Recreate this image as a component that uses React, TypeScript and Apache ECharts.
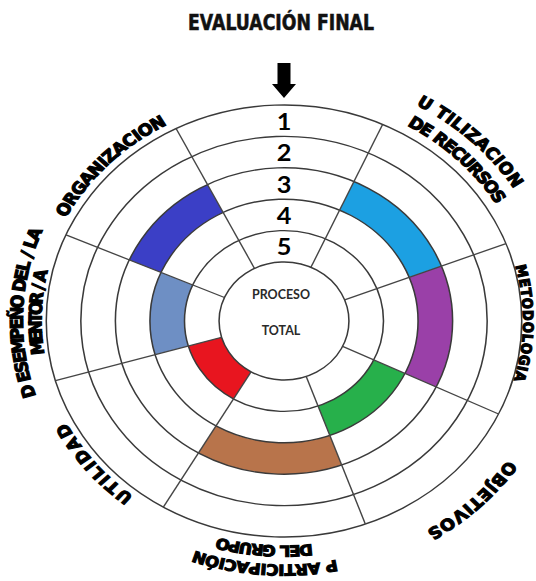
import React, { useEffect, useRef } from 'react';
import * as echarts from 'echarts';

// ---------- data ----------
const TITLE = 'EVALUACIÓN FINAL';
const CENTER_LINES = ['PROCESO', 'TOTAL'];
const RING_LABELS = ['1', '2', '3', '4', '5'];
const CRITERIA = [
  'ORGANIZACION',
  'UTILIZACION DE RECURSOS',
  'METODOLOGIA',
  'OBJETIVOS',
  'PARTICIPACIÓN DEL GRUPO',
  'UTILIDAD',
  'DESEMPEÑO DEL / LA MENTOR / A',
];
const CRITERIA_LINES = [
  ['ORGANIZACION'],
  ['U TILIZACION', 'DE RECURSOS'],
  ['METODOLOGIA'],
  ['OBJETIVOS'],
  ['P ARTICIPACIÓN', 'DEL GRUPO'],
  ['UTILIDAD'],
  ['D ESEMPEÑO DEL / LA', 'MENTOR / A'],
];
const SCORES = [3, 3, 3, 4, 3, 5, 4];
// sector extents (degrees clockwise from top)
const SECTOR_START = [293.5, 24.5, 69, 115.5, 160, 210.5, 254];
const SECTOR_END = [333, 69, 115.5, 160, 210.5, 254, 293.5];
const BOUNDARIES = [333, 24.5, 69, 115.5, 160, 210.5, 254, 293.5];

// ---------- styles / layout ----------
const COLORS = ['#3b3fc6', '#1ca0e2', '#9a40a8', '#27b04b', '#b8744b', '#e8151f', '#6e8fc4'];
// per label line: [radius, first char angle, last char angle, font size]
const LABEL_ARCS: number[][][] = [
  [[229, -60.8, -30.1, 16]],
  [[253, 30.5, 56.1, 16], [231, 31.4, 57.4, 16]],
  [[222, 77, 104.5, 13]],
  [[252, 126, 147, 16]],
  [[249, 170, 198, 15], [230, 175, 194, 15]],
  [[228, 219.6, 241.1, 16]],
  [[243, 253.2, 291, 16], [226, 263.4, 281.6, 16]],
];

const W = 487;
const H = 581;
const SX = 536 / W;
const CX = 284 / SX;
const CY = 321;
const R0 = 59;
const R1 = 216;

const labelFont = (size: number) => `bold ${size}px "DejaVu Sans", sans-serif`;
const TITLE_FONT = 'bold 21px "DejaVu Sans", sans-serif';
const CENTER_FONT = 'bold 14px Lato, "Open Sans", sans-serif';

export default function App() {
  const ref = useRef<HTMLDivElement>(null);

  useEffect(() => {
    if (!ref.current) return;
    const chart = echarts.init(ref.current, undefined, { renderer: 'svg' });

    const ctx = document.createElement('canvas').getContext('2d')!;
    const measure = (t: string, font: string) => {
      ctx.font = font;
      return ctx.measureText(t).width;
    };

    const txtStyle = (text: string, font: string, fill: string, strokeW = 0) => ({
      text,
      font,
      fill,
      stroke: strokeW > 0 ? fill : undefined,
      lineWidth: strokeW,
      textStroke: strokeW > 0 ? fill : undefined,
      textStrokeWidth: strokeW,
      textAlign: 'center',
      textVerticalAlign: 'middle',
      align: 'center',
      verticalAlign: 'middle',
    });

    const graphics: any[] = [];

    // curved criterion labels
    CRITERIA_LINES.forEach((lines, li) => {
      lines.forEach((line, k) => {
        const [r, a0, a1, size] = LABEL_ARCS[li][k];
        const font = labelFont(size);
        const chars = Array.from(line);
        const ws = chars.map((c) => measure(c, font));
        const centers: number[] = [];
        let acc = 0;
        ws.forEach((w) => {
          centers.push(acc + w / 2);
          acc += w;
        });
        const S = centers[centers.length - 1] - centers[0];
        chars.forEach((ch, i) => {
          if (ch === ' ') return;
          const t = (centers[i] - centers[0]) / S;
          const rad = ((a0 + (a1 - a0) * t) * Math.PI) / 180;
          graphics.push({
            type: 'text',
            x: CX + r * Math.sin(rad),
            y: CY - r * Math.cos(rad),
            rotation: -rad,
            silent: true,
            z: 20,
            style: txtStyle(ch, font, '#000', 1.1),
          });
        });
      });
    });

    // title
    const titleW = measure(TITLE, TITLE_FONT);
    graphics.push({
      type: 'text',
      x: 281 / SX,
      y: 23,
      scaleX: 186 / SX / titleW,
      silent: true,
      z: 20,
      style: txtStyle(TITLE, TITLE_FONT, '#111', 0.6),
    });

    // arrow
    const aw = 6.5 / SX;
    const hw = 12 / SX;
    graphics.push({
      type: 'polygon',
      silent: true,
      z: 20,
      shape: {
        points: [
          [CX - aw, 63],
          [CX + aw, 63],
          [CX + aw, 84],
          [CX + hw, 84],
          [CX, 98],
          [CX - hw, 84],
          [CX - aw, 84],
        ],
      },
      style: { fill: '#000' },
    });

    // center texts
    const cw = measure(CENTER_LINES[0], CENTER_FONT);
    const cScale = 58 / SX / cw;
    CENTER_LINES.forEach((t, i) => {
      graphics.push({
        type: 'text',
        x: 281 / SX,
        y: i === 0 ? 294 : 330,
        scaleX: cScale,
        silent: true,
        z: 20,
        style: txtStyle(t, CENTER_FONT, '#2a2a2a'),
      });
    });

    const series: any[] = [];
    // cells
    CRITERIA.forEach((name, i) => {
      const idx = RING_LABELS.indexOf(String(SCORES[i]));
      const base = RING_LABELS.map((_, k) => (k === idx ? SECTOR_START[i] : '-'));
      const span = RING_LABELS.map((_, k) => (k === idx ? SECTOR_END[i] - SECTOR_START[i] : '-'));
      const common = {
        type: 'bar',
        coordinateSystem: 'polar',
        polarIndex: 1,
        stack: 'cell' + i,
        barCategoryGap: '0%',
        barGap: '-100%',
        silent: true,
        z: 2,
      };
      series.push({ ...common, name: name + '_base', data: base, itemStyle: { color: 'rgba(0,0,0,0)' } });
      series.push({ ...common, name, data: span, itemStyle: { color: COLORS[i] } });
    });
    // radial division lines
    BOUNDARIES.forEach((a, i) => {
      series.push({
        type: 'line',
        name: 'div' + i,
        coordinateSystem: 'polar',
        polarIndex: 0,
        data: [
          [0, a],
          [5, a],
        ],
        symbol: 'none',
        silent: true,
        z: 6,
        lineStyle: { color: '#454545', width: 1.3 },
      });
    });

    chart.setOption({
      animation: false,
      backgroundColor: '#ffffff',
      polar: [
        { center: [CX, CY], radius: [R0, R1] },
        { center: [CX, CY], radius: [R0, R1] },
      ],
      angleAxis: [
        { polarIndex: 0, type: 'value', min: 0, max: 360, startAngle: 90, clockwise: true, show: false },
        { polarIndex: 1, type: 'value', min: 0, max: 360, startAngle: 90, clockwise: true, show: false },
      ],
      radiusAxis: [
        {
          polarIndex: 0,
          type: 'value',
          min: 0,
          max: 5,
          interval: 1,
          z: 5,
          axisLine: { show: false },
          axisTick: { show: false },
          axisLabel: { show: false },
          splitLine: { show: true, lineStyle: { color: '#3a3a3a', width: 1.4 } },
        },
        {
          polarIndex: 1,
          type: 'category',
          data: RING_LABELS,
          inverse: true,
          z: 8,
          axisLine: { show: false },
          axisTick: { show: false },
          splitLine: { show: false },
          axisLabel: {
            interval: 0,
            margin: 0,
            align: 'center',
            verticalAlign: 'middle',
            fontFamily: 'Lato, "Open Sans", sans-serif',
            fontWeight: 'bold',
            fontSize: 23,
            color: '#000',
          },
        },
      ],
      series,
      graphic: { elements: graphics },
    });

    return () => chart.dispose();
  }, []);

  return (
    <div
      ref={ref}
      style={{
        position: 'absolute',
        left: 0,
        top: 0,
        width: W,
        height: H,
        transform: `scaleX(${SX})`,
        transformOrigin: '0 0',
        background: '#fff',
      }}
    />
  );
}
